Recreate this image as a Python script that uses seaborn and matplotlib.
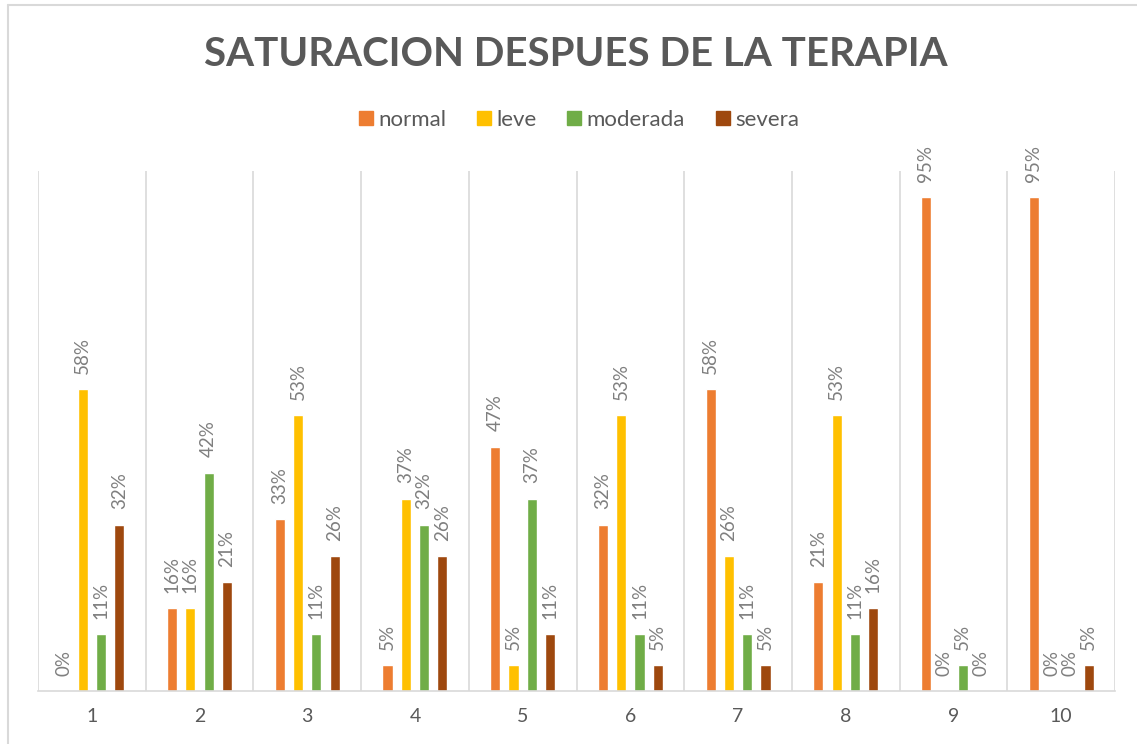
import matplotlib
matplotlib.use("Agg")
import matplotlib.pyplot as plt
import seaborn as sns
import pandas as pd
from matplotlib.lines import Line2D

categories = ["1", "2", "3", "4", "5", "6", "7", "8", "9", "10"]
normal = [0, 16, 33, 5, 47, 32, 58, 21, 95, 95]
leve = [58, 16, 53, 37, 5, 53, 26, 53, 0, 0]
moderada = [11, 42, 11, 32, 37, 11, 11, 11, 5, 0]
severa = [32, 21, 26, 26, 11, 5, 5, 16, 0, 5]
series_names = ["normal", "leve", "moderada", "severa"]
colors = ["#ED7D31", "#FFC000", "#70AD47", "#9E480E"]
title = "SATURACION DESPUES DE LA TERAPIA"

rows = []
for name, vals in zip(series_names, [normal, leve, moderada, severa]):
    for c, v in zip(categories, vals):
        rows.append({"cat": c, "serie": name, "val": v})
df = pd.DataFrame(rows)

sns.set_theme(style="white")
plt.rcParams["font.family"] = ["Lato", "DejaVu Sans"]

W, H = 1137, 744
fig = plt.figure(figsize=(W / 100, H / 100), dpi=100)
ax = fig.add_axes([38 / W, 1 - 691 / H, (1115 - 38) / W, (691 - 171) / H])

sns.barplot(data=df, x="cat", y="val", hue="serie", order=categories,
            hue_order=series_names, palette=colors, width=0.68, gap=0.45,
            saturation=1, ax=ax, legend=False, errorbar=None)

for cont, vals in zip(ax.containers, [normal, leve, moderada, severa]):
    ax.bar_label(cont, labels=[f"{v}%" for v in vals], rotation=90,
                 padding=11, fontsize=13.5, color="#7F7F7F")

ax.set_ylim(0, 100)
ax.set_xlim(-0.5, len(categories) - 0.5)
ax.set_yticks([])
ax.set_xlabel("")
ax.set_ylabel("")
for i in range(len(categories) + 1):
    ax.axvline(i - 0.5, color="#D9D9D9", lw=1.2, zorder=0)
for s in ["top", "right", "left"]:
    ax.spines[s].set_visible(False)
ax.spines["bottom"].set_color("#D9D9D9")
ax.spines["bottom"].set_linewidth(1.2)
ax.tick_params(axis="x", length=0, pad=12, labelsize=14, labelcolor="#595959")

fig.text(576 / W, 1 - 54 / H, title, ha="center", va="center",
         fontsize=29, fontweight="bold", color="#595959")

handles = [Line2D([], [], marker="s", linestyle="", markersize=10.5,
                  markerfacecolor=c, markeredgecolor=c) for c in colors]
fig.legend(handles, series_names, loc="center", bbox_to_anchor=(578 / W, 1 - 120 / H),
           ncol=4, frameon=False, fontsize=16, labelcolor="#595959",
           handletextpad=0.15, columnspacing=1.3, handlelength=0.8)

fig.add_artist(Line2D([8 / W, 8 / W], [0, 1 - 5 / H], color="#D9D9D9", lw=1.5,
                      transform=fig.transFigure))
fig.add_artist(Line2D([8 / W, 1], [1 - 5 / H, 1 - 5 / H], color="#D9D9D9", lw=1.5,
                      transform=fig.transFigure))

fig.savefig("out.png", dpi=100, facecolor="white")
